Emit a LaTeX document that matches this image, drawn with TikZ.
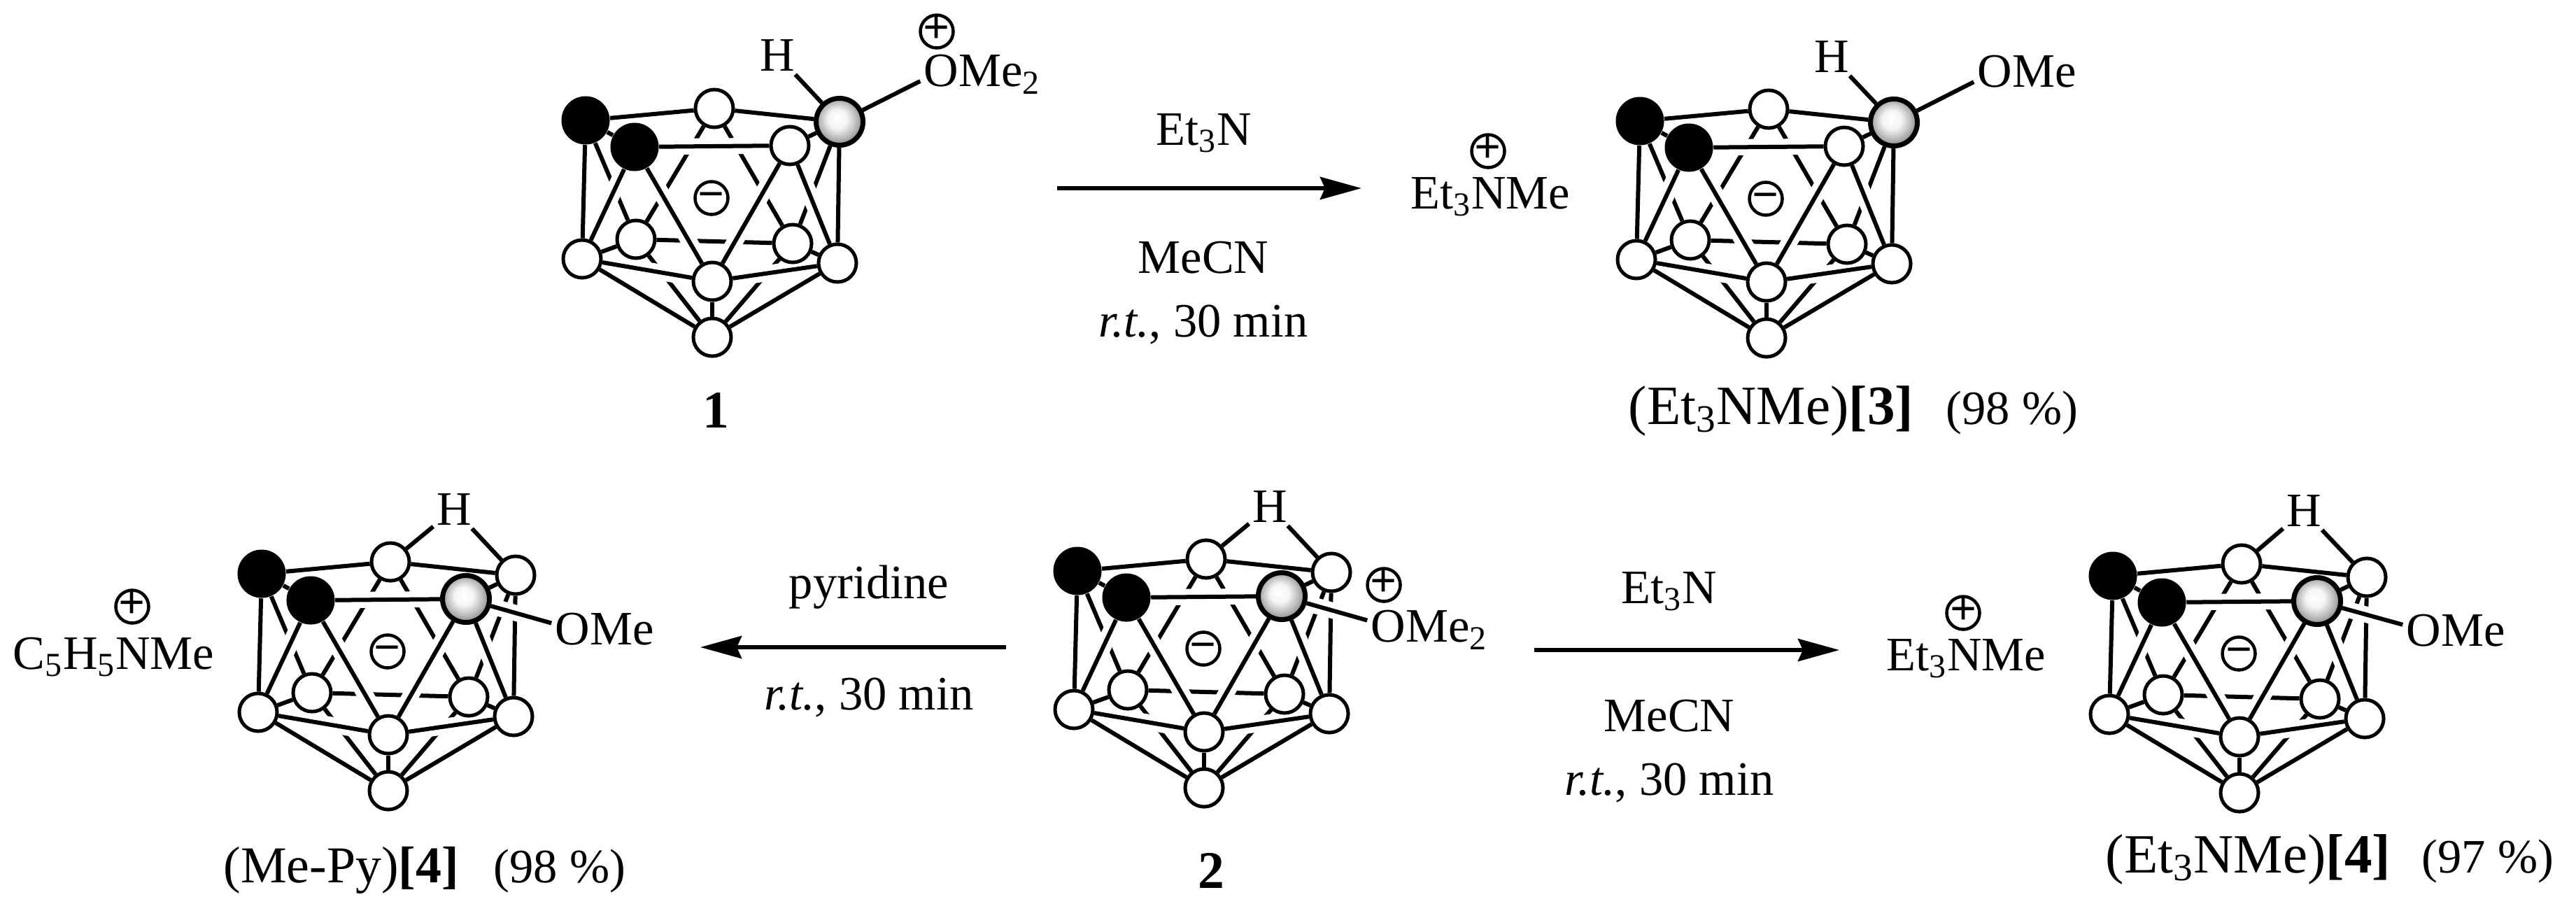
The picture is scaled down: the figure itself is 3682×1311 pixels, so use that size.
\documentclass[tikz,border=0pt]{standalone}
\usepackage{fontspec}
\setmainfont{Liberation Serif}
\usetikzlibrary{arrows.meta}
\pgfdeclarelayer{edges}
\pgfsetlayers{edges,main}
\pgfdeclareradialshading{greyball}{\pgfpoint{-3bp}{4bp}}{%
  color(0bp)=(white); color(10bp)=(white!96!black); color(19bp)=(white!74!black);
  color(28bp)=(white!48!black); color(37bp)=(white!35!black)}

% name, x, y, style of atom d, style of atom e
\newcommand{\carborane}[5]{%
  \begin{scope}[shift={(#2,#3)}]
    \node[black node] (#1a) at (-181,-310) {};
    \node[black node] (#1b) at (-111,-272) {};
    \node[white node] (#1c) at (3,-327) {};
    \node[#4] (#1d) at (182,-308) {};
    \node[#5] (#1e) at (111,-274) {};
    \node[white node] (#1f) at (-109,-140) {};
    \node[white node] (#1g) at (115,-134) {};
    \node[white node] (#1h) at (-186,-112) {};
    \node[white node] (#1i) at (0,-80) {};
    \node[white node] (#1j) at (179,-106) {};
    \node[white node] (#1k) at (0,0) {};
    \node[charge node] (#1m) at (-1,-199) {−};
    \begin{pgfonlayer}{edges}
      \foreach \from/\to in {c/f,c/g,a/f,d/g,f/g,f/h,g/j,f/k,g/k}
        \draw[bond] (#1\from) -- (#1\to);
      \foreach \from/\to in {b/e,b/i,e/i,b/h,e/j,h/i,i/j}
        \draw[casing] (#1\from) -- (#1\to);
      \foreach \from/\to in {a/b,a/c,c/d,a/h,b/h,b/e,b/i,e/i,e/j,e/d,d/j,h/i,i/j,h/k,i/k,j/k}
        \draw[bond] (#1\from) -- (#1\to);
    \end{pgfonlayer}
  \end{scope}}

\begin{document}
\begin{tikzpicture}[x=0.01cm,y=-0.01cm,
  white node/.style={circle,draw,fill=white,line width=0.05cm,minimum size=0.54cm,inner sep=0pt},
  black node/.style={circle,fill=black,minimum size=0.69cm,inner sep=0pt},
  grey node/.style={circle,draw,shading=greyball,line width=0.07cm,minimum size=0.67cm,inner sep=0pt},
  charge node/.style={circle,draw,line width=0.045cm,minimum size=0.47cm,inner sep=-1pt,
    text height=9.5pt,text depth=0pt,font=\fontsize{19}{19}\selectfont\bfseries},
  text node/.style={inner sep=0pt,font=\fontsize{19.5}{22}\selectfont},
  big node/.style={inner sep=0pt,font=\fontsize{22.5}{26}\selectfont},
  atom node/.style={text node,outer sep=0.05cm},
  bond/.style={line width=0.06cm},
  casing/.style={draw=white,line width=0.23cm},
  reaction/.style={line width=0.06cm,-{Stealth[length=0.59cm,width=0.32cm,inset=0.07cm]}}]
  \useasboundingbox (0,0) rectangle (3682,1311);

  % top row
  \carborane{p}{1018}{482}{grey node}{white node}
  \node[atom node] (pH) at (1111,79) {H};
  \node[atom node] (pO) at (1345,101) {O};
  \node[text node,anchor=base west] (pMe) at ([xshift=-0.05cm]pO.base east) {Me\textsubscript{2}};
  \node[charge node] (pplus) at (1339,45) {+};
  \begin{pgfonlayer}{edges}
    \draw[bond] (pH) -- (pd);
    \draw[bond] (pO) -- (pd);
  \end{pgfonlayer}
  \node[text node,anchor=base] (pname) at (1023,611) {\fontsize{21.5}{24}\selectfont\textbf{1}};

  \coordinate (topstart) at (1511,269);
  \coordinate (topend) at (1946,269);
  \draw[reaction] (topstart) -- (topend);
  \node[text node,anchor=base] (topa) at (1721,207) {Et\textsubscript{3}N};
  \node[text node,anchor=base] (topb) at (1720,390) {MeCN};
  \node[text node,anchor=base] (topc) at (1720,481) {\textit{r.t.}, 30 min};
  \node[text node,anchor=base west] (qion) at (2016,298) {Et\textsubscript{3}NMe};
  \node[charge node] (qplus) at (2127,216) {+};

  \carborane{q}{2525}{483}{grey node}{white node}
  \node[atom node] (qH) at (2618,81) {H};
  \node[atom node] (qO) at (2851,102) {O};
  \node[text node,anchor=base west] (qMe) at ([xshift=-0.05cm]qO.base east) {Me};
  \begin{pgfonlayer}{edges}
    \draw[bond] (qH) -- (qd);
    \draw[bond] (qO) -- (qd);
  \end{pgfonlayer}
  \node[big node,anchor=base west] (qname) at (2327,606) {(Et\textsubscript{3}NMe)\textbf{[3]}};
  \node[text node,anchor=base west] (qyield) at (2781,606) {(98 \%)};

  % bottom row
  \carborane{r}{555}{1130}{white node}{grey node}
  \node[atom node] (rH) at (649,728) {H};
  \node[atom node] (rO) at (818,899) {O};
  \node[text node,anchor=base west] (rMe) at ([xshift=-0.05cm]rO.base east) {Me};
  \begin{pgfonlayer}{edges}
    \draw[bond] (rH) -- (rc);
    \draw[bond] (rH) -- (rd);
    \draw[casing] (rO) -- (re);
    \draw[bond] (rO) -- (re);
  \end{pgfonlayer}
  \node[text node,anchor=base west] (rion) at (18,956) {C\textsubscript{5}H\textsubscript{5}NMe};
  \node[charge node] (rplus) at (189,867) {+};
  \node[big node,anchor=base west,font=\fontsize{21}{24}\selectfont] (rname) at (319,1261) {(Me-Py)\textbf{[4]}};
  \node[text node,anchor=base west] (ryield) at (705,1261) {(98 \%)};

  \coordinate (leftstart) at (1438,925);
  \coordinate (leftend) at (1001,925);
  \draw[reaction] (leftstart) -- (leftend);
  \node[text node,anchor=base] (lefta) at (1242,855) {pyridine};
  \node[text node,anchor=base] (leftb) at (1242,1014) {\textit{r.t.}, 30 min};

  \carborane{s}{1721}{1126}{white node}{grey node}
  \node[atom node] (sH) at (1815,724) {H};
  \node[atom node] (sO) at (1984,895) {O};
  \node[text node,anchor=base west] (sMe) at ([xshift=-0.05cm]sO.base east) {Me\textsubscript{2}};
  \node[charge node] (splus) at (1978,836) {+};
  \begin{pgfonlayer}{edges}
    \draw[bond] (sH) -- (sc);
    \draw[bond] (sH) -- (sd);
    \draw[casing] (sO) -- (se);
    \draw[bond] (sO) -- (se);
  \end{pgfonlayer}
  \node[text node,anchor=base] (sname) at (1731,1269) {\fontsize{21.5}{24}\selectfont\textbf{2}};

  \coordinate (rightstart) at (2193,929);
  \coordinate (rightend) at (2629,929);
  \draw[reaction] (rightstart) -- (rightend);
  \node[text node,anchor=base] (righta) at (2386,862) {Et\textsubscript{3}N};
  \node[text node,anchor=base] (rightb) at (2386,1045) {MeCN};
  \node[text node,anchor=base] (rightc) at (2386,1136) {\textit{r.t.}, 30 min};
  \node[text node,anchor=base west] (tion) at (2696,958) {Et\textsubscript{3}NMe};
  \node[charge node] (tplus) at (2806,876) {+};

  \carborane{t}{3201}{1133}{white node}{grey node}
  \node[atom node] (tH) at (3293,730) {H};
  \node[atom node] (tO) at (3464,901) {O};
  \node[text node,anchor=base west] (tMe) at ([xshift=-0.05cm]tO.base east) {Me};
  \begin{pgfonlayer}{edges}
    \draw[bond] (tH) -- (tc);
    \draw[bond] (tH) -- (td);
    \draw[casing] (tO) -- (te);
    \draw[bond] (tO) -- (te);
  \end{pgfonlayer}
  \node[big node,anchor=base west] (tname) at (3009,1247) {(Et\textsubscript{3}NMe)\textbf{[4]}};
  \node[text node,anchor=base west] (tyield) at (3461,1247) {(97 \%)};
\end{tikzpicture}
\end{document}
